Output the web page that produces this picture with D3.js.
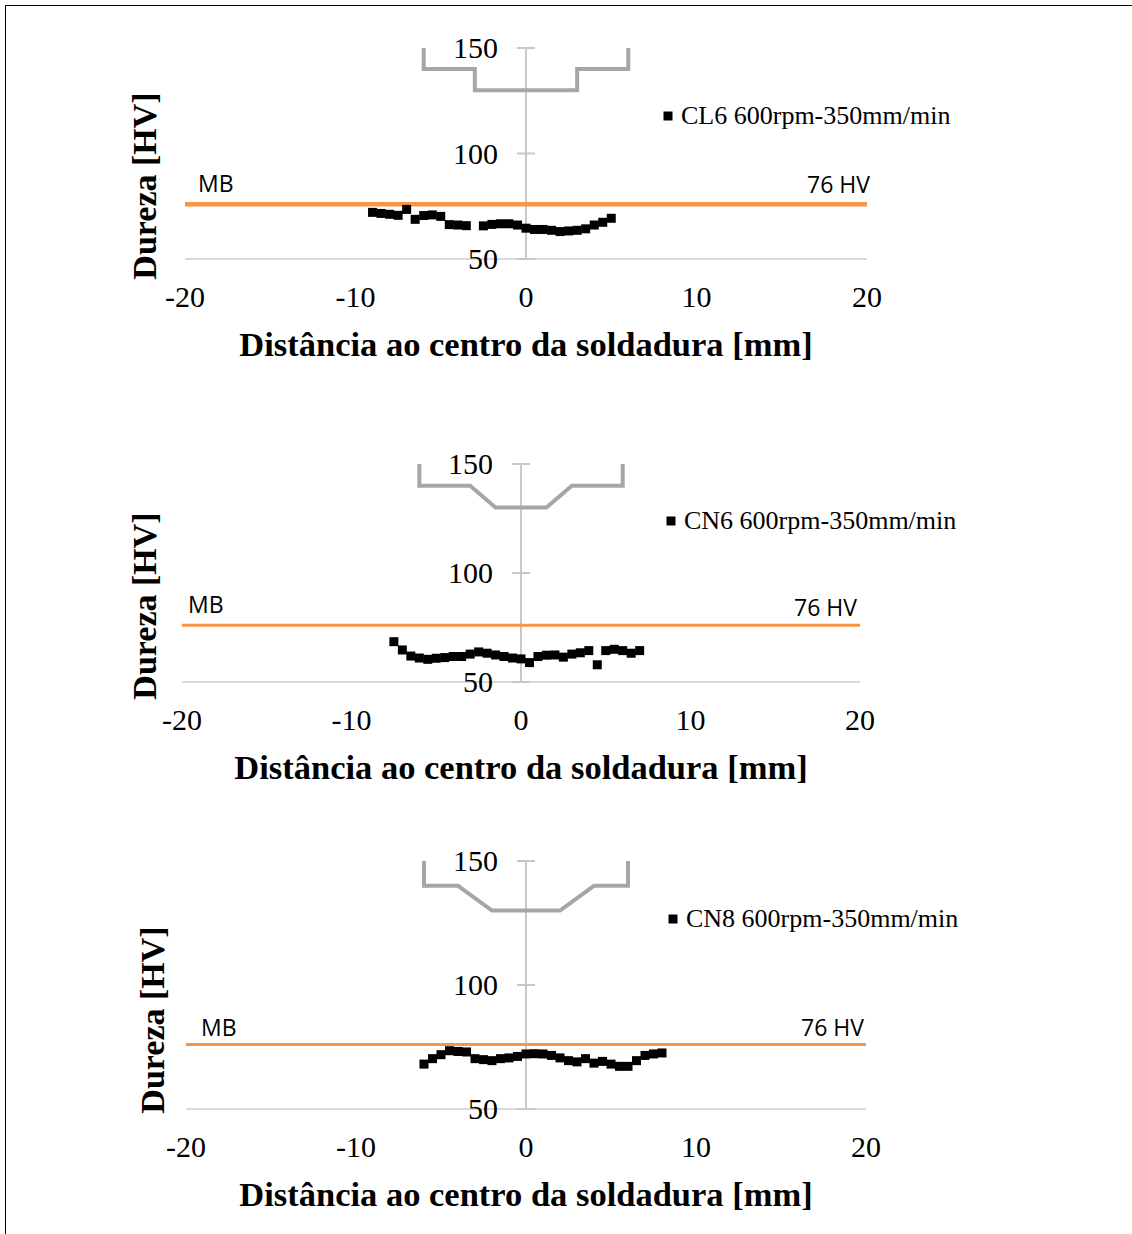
<!DOCTYPE html>
<html>
<head>
<meta charset="utf-8">
<script src="https://cdn.jsdelivr.net/npm/d3@7"></script>
<style>
  body { margin: 0; background: #fff; }
  svg { display: block; }
</style>
</head>
<body>
<svg id="chart" width="1132" height="1234"></svg>
<script>
// Data
const xTicks = [-20, -10, 0, 10, 20];
const yTicks = [50, 100, 150];
const baseMetalHV = 76;

const cl6Dist = [-9, -8.5, -8, -7.5, -7, -6.5, -6, -5.5, -5, -4.5, -4, -3.5, -2.5, -2, -1.5, -1, -0.5, 0, 0.5, 1, 1.5, 2, 2.5, 3, 3.5, 4, 4.5, 5];
const cl6HV = [72.1, 71.6, 71.2, 70.7, 73.5, 68.8, 70.6, 70.9, 70.2, 66.3, 66.1, 65.8, 65.7, 66.4, 66.7, 66.7, 66.1, 64.6, 64.0, 64.0, 63.6, 63.0, 63.3, 63.6, 64.3, 66.1, 67.4, 69.3];

const cn6Dist = [-7.5, -7, -6.5, -6, -5.5, -5, -4.5, -4, -3.5, -3, -2.5, -2, -1.5, -1, -0.5, 0, 0.5, 1, 1.5, 2, 2.5, 3, 3.5, 4, 4.5, 5, 5.5, 6, 6.5, 7];
const cn6HV = [68.5, 64.7, 61.9, 61.0, 60.4, 60.9, 61.2, 61.7, 61.7, 62.8, 63.8, 63.2, 62.4, 61.7, 61.0, 60.6, 58.9, 61.7, 62.3, 62.4, 61.4, 62.8, 63.4, 64.4, 57.9, 64.4, 65.0, 64.4, 63.2, 64.4];

const cn8Dist = [-6, -5.5, -5, -4.5, -4, -3.5, -3, -2.5, -2, -1.5, -1, -0.5, 0, 0.5, 1, 1.5, 2, 2.5, 3, 3.5, 4, 4.5, 5, 5.5, 6, 6.5, 7, 7.5, 8];
const cn8HV = [68.1, 70.3, 71.9, 73.5, 73.2, 73.0, 70.3, 69.9, 69.5, 70.3, 70.6, 71.2, 72.2, 72.3, 72.2, 71.6, 70.6, 69.5, 69.0, 70.3, 68.5, 69.2, 68.1, 67.2, 67.2, 69.5, 71.6, 72.2, 72.6];

// tool profile sketches drawn in the charts (mm, HV)
const toolY = [150, 140, 140, 130, 130, 140, 140, 150];
const toolCL6X = [-6, -6, -3, -3, 3, 3, 6, 6];
const toolCN6X = [-6, -6, -3, -1.5, 1.5, 3, 6, 6];
const toolCN8X = [-6, -6, -4, -2, 2, 4, 6, 6];

const legendNames = ["CL6 600rpm-350mm/min", "CN6 600rpm-350mm/min", "CN8 600rpm-350mm/min"];

// Layout
const panels = [
    { xr: [185, 867], yr: [259, 48], dist: cl6Dist, hv: cl6HV, tool: toolCL6X, name: legendNames[0],
      leg: [668, 116], mb: [198, 192], hvLab: [870, 193], yTitle: [144, 186], orange: 4.5 },
    { xr: [182, 860], yr: [682, 464], dist: cn6Dist, hv: cn6HV, tool: toolCN6X, name: legendNames[1],
      leg: [671, 521], mb: [188, 613], hvLab: [857, 616], yTitle: [144, 606], orange: 3 },
    { xr: [186, 866], yr: [1109, 861], dist: cn8Dist, hv: cn8HV, tool: toolCN8X, name: legendNames[2],
      leg: [673, 919], mb: [201, 1036], hvLab: [864, 1036], yTitle: [152, 1020], orange: 3 }
];

const serif = "'Liberation Serif', 'Times New Roman', serif";
const sans = "'Open Sans', 'Liberation Sans', sans-serif";
const mark = 9;

const svg = d3.select("#chart");

// frame lines on the page
svg.append("line").attr("x1", 5.5).attr("x2", 5.5).attr("y1", 5).attr("y2", 1234)
    .attr("stroke", "#000").attr("stroke-width", 1);
svg.append("line").attr("x1", 5).attr("x2", 1132).attr("y1", 5.5).attr("y2", 5.5)
    .attr("stroke", "#000").attr("stroke-width", 1);

panels.forEach(p => {
    const x = d3.scaleLinear().domain([-20, 20]).range(p.xr);
    const y = d3.scaleLinear().domain([50, 150]).range(p.yr);
    const g = svg.append("g");

    // horizontal axis line
    g.append("line")
        .attr("x1", x(-20)).attr("x2", x(20))
        .attr("y1", y(50)).attr("y2", y(50))
        .attr("stroke", "#d9d9d9").attr("stroke-width", 2);

    // vertical axis through 0 with cross ticks
    g.append("line")
        .attr("x1", x(0)).attr("x2", x(0))
        .attr("y1", y(50)).attr("y2", y(150))
        .attr("stroke", "#c8c8c8").attr("stroke-width", 2);
    g.selectAll(".ytick").data(yTicks).join("line")
        .attr("class", "ytick")
        .attr("x1", x(0) - 9).attr("x2", x(0) + 9)
        .attr("y1", d => y(d)).attr("y2", d => y(d))
        .attr("stroke", "#c8c8c8").attr("stroke-width", 2);

    // tick labels
    g.selectAll(".ylab").data(yTicks).join("text")
        .attr("class", "ylab")
        .attr("x", x(0) - 28).attr("y", d => y(d) + 10)
        .attr("text-anchor", "end")
        .style("font-family", serif).style("font-size", "30px")
        .text(d => d);
    g.selectAll(".xlab").data(xTicks).join("text")
        .attr("class", "xlab")
        .attr("x", d => x(d)).attr("y", y(50) + 48)
        .attr("text-anchor", "middle")
        .style("font-family", serif).style("font-size", "30px")
        .text(d => String(d));

    // axis titles
    g.append("text")
        .attr("x", x(0)).attr("y", y(50) + 97)
        .attr("text-anchor", "middle")
        .style("font-family", serif).style("font-size", "34.5px").style("font-weight", "bold")
        .text("Distância ao centro da soldadura [mm]");
    g.append("text")
        .attr("transform", `translate(${p.yTitle[0]},${p.yTitle[1]}) rotate(-90)`)
        .attr("text-anchor", "middle").attr("dy", "0.35em")
        .style("font-family", serif).style("font-size", "34px").style("font-weight", "bold")
        .text("Dureza [HV]");

    // base metal hardness line
    g.append("line")
        .attr("x1", x(-20)).attr("x2", x(20))
        .attr("y1", y(baseMetalHV)).attr("y2", y(baseMetalHV))
        .attr("stroke", "#f79646").attr("stroke-width", p.orange);
    g.append("text")
        .attr("x", p.mb[0]).attr("y", p.mb[1])
        .style("font-family", sans).style("font-size", "23px")
        .text("MB");
    g.append("text")
        .attr("x", p.hvLab[0]).attr("y", p.hvLab[1])
        .attr("text-anchor", "end")
        .style("font-family", sans).style("font-size", "23px")
        .text(baseMetalHV + " HV");

    // tool profile
    const tool = p.tool.map((d, i) => [d, toolY[i]]);
    g.append("path")
        .datum(tool)
        .attr("d", d3.line().x(d => x(d[0])).y(d => y(d[1])))
        .attr("fill", "none")
        .attr("stroke", "#a6a6a6").attr("stroke-width", 4)
        .attr("stroke-linejoin", "miter");

    // hardness points
    g.selectAll(".pt").data(p.dist).join("rect")
        .attr("class", "pt")
        .attr("x", d => x(d) - mark / 2)
        .attr("y", (d, i) => y(p.hv[i]) - mark / 2)
        .attr("width", mark).attr("height", mark)
        .attr("fill", "#000");

    // legend
    g.append("rect")
        .attr("x", p.leg[0] - 4.5).attr("y", p.leg[1] - 4.5)
        .attr("width", 9).attr("height", 9).attr("fill", "#000");
    g.append("text")
        .attr("x", p.leg[0] + 13).attr("y", p.leg[1] + 8)
        .style("font-family", serif).style("font-size", "26px")
        .text(p.name);
});
</script>
</body>
</html>
